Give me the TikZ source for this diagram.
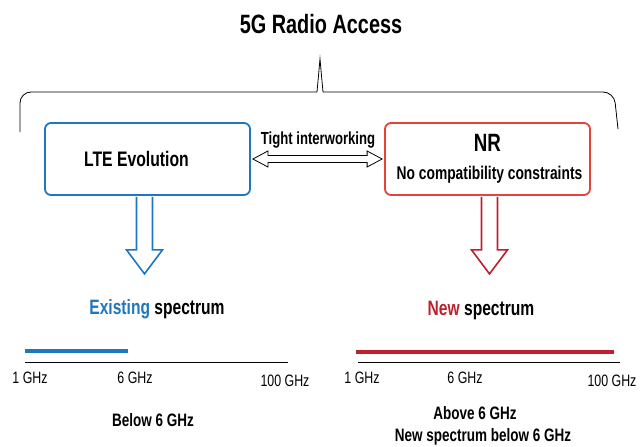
\documentclass[tikz,border=0pt]{standalone}
\usepackage{fontspec}
\setmainfont{Liberation Sans}[FakeStretch=0.75]
\usepackage{tikz}
\usetikzlibrary{calc,positioning}

\definecolor{lteblue}{RGB}{31,119,193}
\definecolor{nrred}{RGB}{232,65,58}
\definecolor{newred}{RGB}{192,32,46}

\tikzset{
  radiobox/.style={draw, line width=1.8pt, rounded corners=6pt, minimum width=205pt, minimum height=72pt},
  boldlabel/.style={font=\bfseries\fontsize{18}{21}\selectfont, inner sep=0pt},
  ticklabel/.style={font=\fontsize{16.5}{19}\selectfont, inner sep=0pt},
  hollowarrow/.style={line width=1.6pt, line join=miter, fill=white}
}

\begin{document}
\begin{tikzpicture}[x=1pt, y=-1pt]
\useasboundingbox (0,0) rectangle (641,447);

% Title and brace
\node[font=\bfseries\fontsize{26.5}{30}\selectfont, inner sep=0pt] (title) at (321,24) {5G Radio Access};
\coordinate (braceL) at (20,132);
\coordinate (braceR) at (618,129);
\coordinate (braceTip) at (320,59);
\draw[line width=0.8pt, miter limit=20] (braceL) [rounded corners=11pt] -- (20,92) -- (60,92) [sharp corners] -- (317,92) -- (braceTip)
  -- (323,92) -- (580,92) [rounded corners=11pt] -- (614,92) -- (braceR);

% The two boxes
\node[radiobox, draw=lteblue] (lte) at (147.5,159) {};
\node[boldlabel, font=\bfseries\fontsize{21}{24}\selectfont] (lteText) at ($(lte.center)+(-11,0)$) {LTE Evolution};
\node[radiobox, draw=nrred] (nr) at (487.5,159) {};
\node[boldlabel, font=\bfseries\fontsize{25}{28}\selectfont] (nrText) at ($(nr.center)+(0,-16)$) {NR};
\node[boldlabel, font=\bfseries\fontsize{18.4}{21}\selectfont] (nrSub) at ($(nr.center)+(2,16)$) {No compatibility constraints};

% Interworking double arrow
\node[boldlabel, font=\bfseries\fontsize{17.5}{20}\selectfont] (tight) at (318,140) {Tight interworking};
\draw[line width=0.8pt, fill=white]
  ($(lte.east)+(2,0)$) -- ++(15,-8) -- ++(0,4.5) -- ($(nr.west)+(-17,-3.5)$) -- ++(0,-4.5)
  -- ($(nr.west)+(-2,0)$) -- ++(-15,8) -- ++(0,-4.5) -- ($(lte.east)+(17,3.5)$) -- ++(0,4.5) -- cycle;

% Down arrows
\draw[hollowarrow, draw=lteblue] ($(lte.south)+(-11,1)$) -- ++(0,53) -- ++(-10,0) -- ++(18,24)
  -- ++(18,-24) -- ++(-10,0) -- ++(0,-53);
\draw[hollowarrow, draw=newred] ($(nr.south)+(-6,1)$) -- ++(0,53) -- ++(-10,0) -- ++(18,24)
  -- ++(18,-24) -- ++(-10,0) -- ++(0,-53);

% Spectrum headings
\node[boldlabel, font=\bfseries\fontsize{20.8}{24}\selectfont] (existing) at (157,309)
  {\textcolor{lteblue}{Existing} spectrum};
\node[boldlabel, font=\bfseries\fontsize{20.8}{24}\selectfont] (newspec) at (481,311)
  {\textcolor{newred}{New} spectrum};

% Left spectrum axis
\coordinate (axLa) at (25,362);
\coordinate (axLb) at (288,362);
\draw[line width=0.8pt] (axLa) -- (axLb);
\draw[line width=4pt, lteblue] (25,351) -- (128,351);
\node[ticklabel] (oneL) at (30,378) {1 GHz};
\node[ticklabel] (sixL) at (135,378) {6 GHz};
\node[ticklabel] (hundL) at (285,381) {100 GHz};
\node[boldlabel] (below) at (153,420) {Below 6 GHz};

% Right spectrum axis
\coordinate (axRa) at (358,362);
\coordinate (axRb) at (620,362);
\draw[line width=0.8pt] (axRa) -- (axRb);
\draw[line width=4pt, newred] (356,352) -- (614,352);
\node[ticklabel] (oneR) at (362,378) {1 GHz};
\node[ticklabel] (sixR) at (465,378) {6 GHz};
\node[ticklabel] (hundR) at (612,381) {100 GHz};
\node[boldlabel] (above) at (475,413) {Above 6 GHz};
\node[boldlabel] (newbelow) at (483,437) {New spectrum below 6 GHz};
\end{tikzpicture}
\end{document}
